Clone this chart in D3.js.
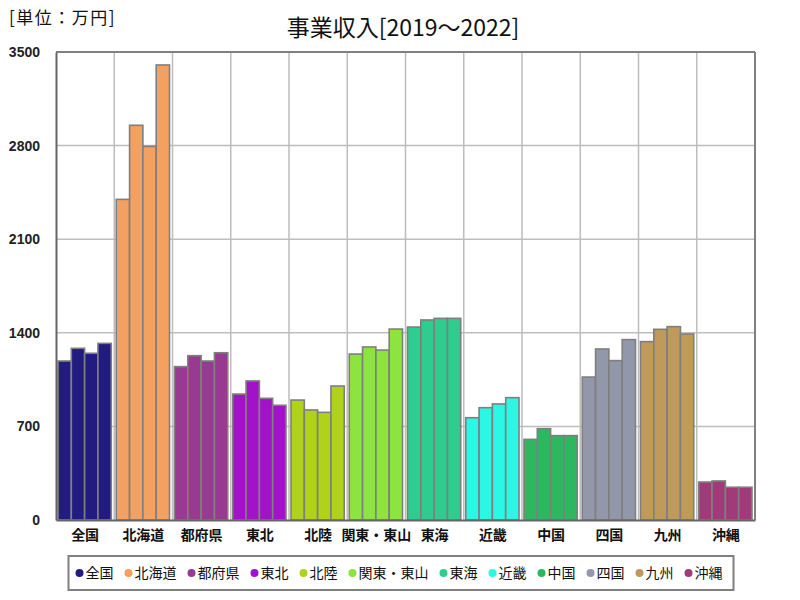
<!DOCTYPE html>
<html><head><meta charset="utf-8">
<script src="https://cdn.jsdelivr.net/npm/d3@7"></script>
<style>
body{margin:0;background:#fff;}
svg{display:block;}
.jp{font-family:"Noto Sans CJK JP","Noto Sans",sans-serif;}
.num{font-family:"Liberation Sans","Arial",sans-serif;}
</style>
</head><body>
<svg id="c" width="800" height="600"></svg>
<script>
const categories = ["全国","北海道","都府県","東北","北陸","関東・東山","東海","近畿","中国","四国","九州","沖縄"];
const years = ["2019","2020","2021","2022"];
const v2019 = [1189, 2398, 1147, 942, 897, 1241, 1443, 765, 603, 1069, 1334, 284];
const v2020 = [1284, 2952, 1229, 1040, 823, 1294, 1496, 840, 683, 1279, 1426, 292];
const v2021 = [1247, 2794, 1189, 910, 805, 1271, 1508, 868, 631, 1192, 1446, 245];
const v2022 = [1321, 3403, 1251, 858, 1002, 1428, 1508, 915, 631, 1349, 1391, 245];
const colors = ["#231c80","#f4a060","#983a92","#a212c8","#b0d21a","#8ee43e","#2ecc8e","#2af8e4","#2db860","#9397aa","#bf9a5a","#a03a78"];
const yTicks = [0, 700, 1400, 2100, 2800, 3500];
const title = "事業収入[2019～2022]";
const unitLabel = "[単位：万円]";

const series = [v2019, v2020, v2021, v2022];
const rows = categories.map((c, i) => ({cat: c, color: colors[i], vals: years.map((y, j) => ({year: y, v: series[j][i]}))}));

const svg = d3.select("#c");
svg.append("rect").attr("width",800).attr("height",600).attr("fill","#fff");

const L = 56, R = 755, T = 52, B = 520;
const x = d3.scaleBand().domain(categories).range([L, R]).padding(0);
const bw = x.bandwidth();
const xi = d3.scaleBand().domain(years).range([2, bw - 3]).padding(0);
const y = d3.scaleLinear().domain([0, 3500]).range([B, T]);

// horizontal gridlines
svg.append("g").selectAll("line").data(yTicks.filter(t => t > 0 && t < 3500)).join("line")
  .attr("x1", L).attr("x2", R).attr("y1", d => y(d)).attr("y2", d => y(d))
  .attr("stroke", "#bdbdbd").attr("stroke-width", 1.5);
// vertical gridlines at group boundaries
svg.append("g").selectAll("line").data(categories.slice(1)).join("line")
  .attr("x1", d => x(d)).attr("x2", d => x(d)).attr("y1", T).attr("y2", B)
  .attr("stroke", "#bdbdbd").attr("stroke-width", 1.5);

// bars
const g = svg.append("g").selectAll("g").data(rows).join("g")
  .attr("transform", d => `translate(${x(d.cat)},0)`);
g.selectAll("rect").data(d => d.vals.map(v => ({...v, color: d.color}))).join("rect")
  .attr("x", d => xi(d.year)).attr("width", xi.bandwidth())
  .attr("y", d => y(d.v)).attr("height", d => B - y(d.v))
  .attr("fill", d => d.color).attr("stroke", "#7f7f7f").attr("stroke-width", 1.6);

// frame
svg.append("line").attr("x1", L).attr("x2", R).attr("y1", T).attr("y2", T).attr("stroke", "#808080").attr("stroke-width", 2);
svg.append("line").attr("x1", R).attr("x2", R).attr("y1", T).attr("y2", B).attr("stroke", "#808080").attr("stroke-width", 2);

// y axis
const ya = svg.append("g").attr("transform", `translate(${L},0)`)
  .call(d3.axisLeft(y).tickValues(yTicks).tickFormat(d3.format("d")).tickSize(0).tickPadding(16));
ya.select(".domain").attr("stroke", "#666").attr("stroke-width", 2);
ya.selectAll("text").attr("class", "num").attr("font-size", 14).attr("font-weight", "bold").attr("fill", "#222");

// x axis
const xa = svg.append("g").attr("transform", `translate(0,${B})`)
  .call(d3.axisBottom(x).tickSize(0).tickPadding(10));
xa.select(".domain").attr("stroke", "#666").attr("stroke-width", 2);
xa.selectAll("text").attr("class", "jp").attr("font-size", 14).attr("font-weight", "bold").attr("fill", "#111");

// title
svg.append("text").attr("class", "jp").attr("x", 403).attr("y", 36).attr("text-anchor", "middle")
  .attr("font-size", 23).attr("fill", "#111").text(title);
svg.append("text").attr("class", "jp").attr("x", 9).attr("y", 24)
  .attr("font-size", 17).attr("letter-spacing", 1.5).attr("fill", "#111").text(unitLabel);

// legend
const lg = svg.append("g");
const box = lg.append("rect").attr("fill", "#fff").attr("stroke", "#808080").attr("stroke-width", 2);
let cx = 0;
const items = [];
const gap = 15;
rows.forEach(d => {
  const it = lg.append("g");
  it.append("circle").attr("cx", cx).attr("cy", 573).attr("r", 4).attr("fill", d.color);
  const t = it.append("text").attr("class", "jp").attr("x", cx + 6).attr("y", 578)
    .attr("font-size", 14).attr("fill", "#111").text(d.cat);
  const w = t.node().getComputedTextLength();
  items.push(it);
  cx += 6 + w + gap;
});
const totalW = cx - gap;
const startX = 399 - (totalW + 4) / 2 + 4;
items.forEach(it => it.attr("transform", `translate(${startX},0)`));
box.attr("x", startX - 11).attr("y", 556).attr("width", totalW + 22).attr("height", 34);
</script>
</body></html>
